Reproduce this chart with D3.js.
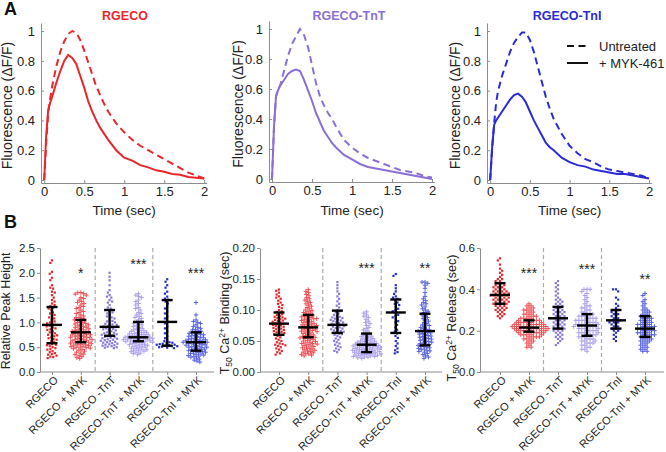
<!DOCTYPE html>
<html><head><meta charset="utf-8">
<script src="https://cdn.jsdelivr.net/npm/d3@7"></script>
<style>
body{margin:0;background:#fff}
svg{display:block}
</style></head><body>
<svg id="c" width="666" height="452" font-family="'Liberation Sans', Arial, sans-serif"></svg>
<script>
// ---------- Panel A data ----------
const TIME = [0,0.025,0.05,0.075,0.1,0.15,0.2,0.25,0.3,0.35,0.4,0.45,0.5,0.55,0.6,0.65,0.7,0.75,0.8,0.9,1.0,1.1,1.2,1.3,1.4,1.5,1.6,1.7,1.8,1.9,2.0];
const RGECO_UNTREATED = [0,0.25,0.45,0.55,0.63,0.76,0.86,0.93,0.98,1.0,0.99,0.94,0.87,0.79,0.71,0.63,0.57,0.51,0.46,0.38,0.32,0.27,0.23,0.2,0.17,0.14,0.11,0.08,0.05,0.03,0.01];
const RGECO_MYK461   = [0,0.3,0.47,0.52,0.56,0.65,0.73,0.8,0.84,0.82,0.78,0.7,0.62,0.53,0.46,0.4,0.35,0.31,0.27,0.2,0.15,0.13,0.1,0.085,0.065,0.055,0.04,0.035,0.02,0.015,0.01];
const TNT_UNTREATED  = [0,0.35,0.55,0.6,0.62,0.72,0.82,0.9,0.95,1.0,0.96,0.88,0.76,0.64,0.55,0.49,0.44,0.4,0.35,0.26,0.21,0.17,0.14,0.12,0.1,0.08,0.06,0.05,0.04,0.02,0.01];
const TNT_MYK461     = [0,0.35,0.55,0.59,0.62,0.66,0.7,0.72,0.73,0.72,0.66,0.59,0.52,0.44,0.38,0.32,0.28,0.24,0.21,0.16,0.13,0.1,0.08,0.07,0.06,0.05,0.04,0.03,0.02,0.01,0.0];
const TNI_UNTREATED  = [0,0.22,0.38,0.52,0.6,0.7,0.78,0.86,0.92,0.96,0.99,0.99,0.94,0.86,0.76,0.66,0.56,0.48,0.41,0.31,0.23,0.18,0.14,0.12,0.09,0.07,0.06,0.05,0.04,0.03,0.01];
const TNI_MYK461     = [0,0.22,0.37,0.4,0.42,0.46,0.5,0.54,0.57,0.58,0.56,0.52,0.46,0.4,0.35,0.3,0.25,0.22,0.2,0.15,0.12,0.1,0.09,0.07,0.06,0.05,0.04,0.04,0.03,0.02,0.01];
const A_TITLES = ["RGECO","RGECO-TnT","RGECO-TnI"];
const A_XTICKS = [0,0.5,1,1.5,2];
const A_YTICKS = [0,0.2,0.4,0.6,0.8,1];
const LEGEND = ["Untreated","+ MYK-461"];

// ---------- Panel B data ----------
const CATEGORIES = ["RGECO","RGECO + MYK","RGECO -TnT","RGECO-TnT + MYK","RGECO-TnI","RGECO-TnI + MYK"];

const PH_RGECO = [2.25,2.2,2.02,1.98,1.9,1.85,1.75,1.7,1.68,1.6,1.55,1.5,1.45,1.42,1.38,1.33,1.3,1.28,1.25,1.2,1.18,1.15,1.12,1.1,1.08,1.05,1.02,1.0,0.98,0.96,0.95,0.93,0.9,0.88,0.86,0.85,0.82,0.8,0.78,0.76,0.75,0.72,0.7,0.68,0.66,0.65,0.62,0.6,0.58,0.56,0.55,0.52,0.5,0.48,0.46,0.45,0.42,0.4,0.38,0.36,0.35,0.33,0.31,0.3,0.28,1.35,1.62,0.92,0.74,0.54];
const PH_RGECO_MYK = [1.6,1.6,1.58,1.57,1.55,1.5,1.48,1.45,1.42,1.4,1.38,1.35,1.32,1.3,1.28,1.25,1.22,1.2,1.18,1.15,1.13,1.1,1.1,1.08,1.05,1.05,1.03,1.0,1.0,0.98,0.97,0.95,0.95,0.93,0.92,0.9,0.9,0.88,0.87,0.85,0.85,0.84,0.82,0.82,0.8,0.8,0.79,0.78,0.77,0.76,0.75,0.75,0.74,0.73,0.72,0.71,0.7,0.7,0.69,0.68,0.67,0.66,0.65,0.65,0.64,0.63,0.62,0.61,0.6,0.6,0.59,0.58,0.57,0.56,0.55,0.55,0.54,0.53,0.52,0.51,0.5,0.5,0.49,0.48,0.47,0.45,0.44,0.42,0.4,0.38,0.36,0.35,0.33,0.31,0.29,0.27];
const PH_TNT = [2.0,1.92,1.85,1.75,1.65,1.6,1.55,1.52,1.5,1.45,1.42,1.4,1.35,1.3,1.28,1.25,1.22,1.2,1.18,1.15,1.12,1.1,1.08,1.05,1.03,1.0,0.98,0.96,0.95,0.93,0.92,0.9,0.88,0.87,0.85,0.84,0.82,0.8,0.79,0.78,0.76,0.75,0.74,0.72,0.71,0.7,0.69,0.68,0.66,0.65,0.64,0.63,0.62,0.61,0.6,0.59,0.58,0.57,0.56,0.55,0.54,0.53,0.52,0.51,0.5,0.49,0.48,1.02,0.97,0.86,0.77,0.67];
const PH_TNT_MYK = [1.58,1.55,1.52,1.5,1.45,1.42,1.38,1.35,1.3,1.28,1.25,1.2,1.18,1.15,1.12,1.1,1.08,1.05,1.02,1.0,0.98,0.96,0.95,0.93,0.92,0.9,0.88,0.87,0.85,0.84,0.83,0.82,0.8,0.8,0.79,0.78,0.77,0.76,0.75,0.75,0.74,0.73,0.72,0.72,0.71,0.7,0.7,0.69,0.69,0.68,0.68,0.67,0.66,0.66,0.65,0.65,0.64,0.63,0.63,0.62,0.62,0.61,0.6,0.6,0.59,0.58,0.57,0.56,0.55,0.55,0.54,0.53,0.52,0.51,0.5,0.49,0.48,0.47,0.46,0.45,0.44,0.43,0.42,0.41,0.4,0.38,0.37,0.35];
const PH_TNI = [1.87,1.82,1.75,1.7,1.62,1.58,1.52,1.48,1.45,1.42,1.38,1.32,1.28,1.22,1.18,1.12,1.08,1.02,0.98,0.92,0.88,0.82,0.78,0.72,0.68,0.64,0.62,0.6,0.58,0.57,0.56,0.55,0.55,0.54,0.53,0.52,0.52,0.51,0.5,0.49,0.48,1.46,0.59];
const PH_TNI_MYK = [1.4,1.15,1.05,1.02,1.0,0.98,0.95,0.92,0.9,0.88,0.86,0.85,0.83,0.82,0.8,0.79,0.78,0.77,0.76,0.75,0.74,0.73,0.72,0.71,0.7,0.69,0.68,0.67,0.66,0.65,0.65,0.64,0.63,0.62,0.62,0.61,0.6,0.6,0.59,0.58,0.57,0.56,0.55,0.55,0.54,0.53,0.52,0.51,0.5,0.5,0.49,0.48,0.47,0.46,0.45,0.44,0.43,0.42,0.41,0.4,0.39,0.38,0.37,0.36,0.35,0.34,0.33,0.32,0.31,0.3,0.28,0.26,0.24,0.22,0.2];
const PH_MEAN = [0.95,0.80,0.91,0.70,1.01,0.60];
const PH_LO   = [0.58,0.60,0.73,0.62,0.53,0.43];
const PH_HI   = [1.31,1.05,1.25,1.01,1.45,0.80];
const PH_SIG  = ["","*","","***","","***"];
const PH_SIG_Y = [0,2.04,0,2.22,0,2.04];
const PH_TICKS = [0,0.5,1,1.5,2,2.5];

const BD_RGECO = [0.133,0.131,0.128,0.125,0.122,0.12,0.118,0.115,0.112,0.11,0.108,0.105,0.103,0.1,0.098,0.097,0.095,0.093,0.092,0.09,0.089,0.088,0.087,0.086,0.085,0.084,0.083,0.082,0.081,0.08,0.079,0.078,0.077,0.076,0.075,0.074,0.073,0.072,0.071,0.07,0.069,0.068,0.067,0.066,0.065,0.064,0.063,0.062,0.061,0.06,0.058,0.056,0.054,0.052,0.05,0.048,0.046,0.045,0.044,0.043,0.042,0.04,0.038,0.036,0.034,0.032,0.03,0.028];
const BD_RGECO_MYK = [0.133,0.13,0.128,0.125,0.123,0.12,0.118,0.116,0.114,0.112,0.11,0.108,0.106,0.104,0.102,0.1,0.099,0.098,0.096,0.095,0.094,0.092,0.091,0.09,0.089,0.088,0.087,0.086,0.085,0.084,0.083,0.082,0.081,0.08,0.079,0.078,0.077,0.076,0.075,0.074,0.073,0.072,0.071,0.07,0.07,0.069,0.068,0.067,0.066,0.065,0.064,0.063,0.062,0.061,0.06,0.059,0.058,0.057,0.056,0.055,0.054,0.053,0.052,0.051,0.05,0.049,0.048,0.047,0.046,0.045,0.044,0.043,0.042,0.041,0.04,0.039,0.038,0.037,0.036,0.035,0.034,0.033,0.032,0.031,0.03,0.029,0.028,0.027,0.026,0.086,0.076,0.066,0.056,0.046];
const BD_TNT = [0.145,0.14,0.135,0.13,0.126,0.122,0.118,0.114,0.11,0.107,0.104,0.1,0.098,0.096,0.094,0.092,0.09,0.089,0.088,0.087,0.086,0.085,0.084,0.083,0.082,0.081,0.08,0.079,0.078,0.077,0.076,0.075,0.074,0.073,0.072,0.071,0.07,0.069,0.068,0.067,0.066,0.065,0.064,0.063,0.062,0.061,0.06,0.058,0.056,0.054,0.052,0.05,0.048,0.046,0.044,0.042,0.04,0.038,0.036,0.034,0.032];
const BD_TNT_MYK = [0.097,0.095,0.092,0.09,0.088,0.085,0.082,0.08,0.078,0.075,0.072,0.07,0.068,0.066,0.064,0.062,0.06,0.059,0.058,0.057,0.056,0.055,0.054,0.053,0.052,0.051,0.05,0.05,0.049,0.048,0.048,0.047,0.046,0.046,0.045,0.045,0.044,0.044,0.043,0.043,0.042,0.042,0.041,0.041,0.04,0.04,0.039,0.039,0.038,0.038,0.037,0.037,0.036,0.036,0.035,0.035,0.034,0.034,0.033,0.033,0.032,0.032,0.031,0.031,0.03,0.03,0.029,0.029,0.028,0.028,0.027,0.027,0.026,0.026,0.025,0.025,0.024,0.024,0.023,0.022];
const BD_TNI = [0.158,0.155,0.14,0.135,0.13,0.126,0.122,0.12,0.118,0.115,0.112,0.11,0.108,0.105,0.102,0.1,0.098,0.095,0.092,0.09,0.088,0.085,0.082,0.08,0.076,0.072,0.068,0.065,0.062,0.058,0.055,0.05,0.046,0.042,0.038,0.035,0.032,0.03];
const BD_TNI_MYK = [0.145,0.145,0.143,0.14,0.135,0.128,0.122,0.118,0.115,0.112,0.11,0.108,0.105,0.102,0.1,0.098,0.096,0.094,0.092,0.09,0.088,0.086,0.084,0.082,0.08,0.078,0.076,0.075,0.074,0.072,0.07,0.069,0.068,0.067,0.066,0.065,0.064,0.063,0.062,0.061,0.06,0.059,0.058,0.057,0.056,0.055,0.054,0.053,0.052,0.051,0.05,0.049,0.048,0.047,0.046,0.045,0.044,0.043,0.042,0.041,0.04,0.039,0.038,0.037,0.036,0.035,0.034,0.033,0.032,0.03,0.028,0.026,0.024,0.022];
const BD_MEAN = [0.078,0.072,0.076,0.044,0.096,0.066];
const BD_LO   = [0.060,0.056,0.063,0.032,0.063,0.043];
const BD_HI   = [0.096,0.092,0.099,0.062,0.117,0.094];
const BD_SIG  = ["","","","***","","**"];
const BD_SIG_Y = [0,0,0,0.171,0,0.171];
const BD_TICKS = [0,0.05,0.1,0.15,0.2];

const RL_RGECO = [0.55,0.54,0.52,0.5,0.49,0.48,0.47,0.46,0.45,0.45,0.44,0.44,0.43,0.43,0.42,0.42,0.42,0.41,0.41,0.41,0.4,0.4,0.4,0.39,0.39,0.39,0.39,0.38,0.38,0.38,0.38,0.37,0.37,0.37,0.37,0.37,0.36,0.36,0.36,0.36,0.35,0.35,0.35,0.35,0.34,0.34,0.34,0.34,0.33,0.33,0.33,0.33,0.32,0.32,0.32,0.31,0.31,0.31,0.3,0.3,0.3,0.29,0.29,0.28,0.28,0.27,0.27,0.26];
const RL_RGECO_MYK = [0.33,0.32,0.32,0.31,0.31,0.3,0.3,0.3,0.29,0.29,0.28,0.28,0.28,0.27,0.27,0.27,0.26,0.26,0.26,0.26,0.25,0.25,0.25,0.25,0.25,0.24,0.24,0.24,0.24,0.24,0.24,0.23,0.23,0.23,0.23,0.23,0.23,0.23,0.22,0.22,0.22,0.22,0.22,0.22,0.22,0.22,0.21,0.21,0.21,0.21,0.21,0.21,0.21,0.21,0.2,0.2,0.2,0.2,0.2,0.2,0.2,0.19,0.19,0.19,0.19,0.19,0.19,0.18,0.18,0.18,0.18,0.18,0.17,0.17,0.17,0.17,0.16,0.16,0.16,0.15,0.15,0.14,0.14,0.13,0.12,0.12];
const RL_TNT = [0.44,0.43,0.42,0.41,0.4,0.39,0.38,0.37,0.36,0.35,0.35,0.34,0.34,0.33,0.33,0.32,0.32,0.31,0.31,0.3,0.3,0.3,0.29,0.29,0.29,0.28,0.28,0.28,0.27,0.27,0.27,0.26,0.26,0.26,0.26,0.25,0.25,0.25,0.24,0.24,0.24,0.23,0.23,0.23,0.22,0.22,0.22,0.21,0.21,0.21,0.2,0.2,0.2,0.19,0.19,0.18,0.18,0.17,0.17,0.16,0.16,0.15,0.14,0.13];
const RL_TNT_MYK = [0.4,0.4,0.4,0.39,0.38,0.37,0.36,0.35,0.34,0.33,0.32,0.32,0.31,0.31,0.3,0.3,0.29,0.29,0.28,0.28,0.28,0.27,0.27,0.27,0.26,0.26,0.26,0.26,0.25,0.25,0.25,0.25,0.24,0.24,0.24,0.24,0.23,0.23,0.23,0.23,0.23,0.22,0.22,0.22,0.22,0.22,0.21,0.21,0.21,0.21,0.2,0.2,0.2,0.2,0.19,0.19,0.19,0.19,0.18,0.18,0.18,0.18,0.17,0.17,0.17,0.16,0.16,0.16,0.15,0.15,0.15,0.14,0.14,0.14,0.13,0.13,0.12,0.12,0.11,0.11,0.1];
const RL_TNI = [0.4,0.4,0.39,0.36,0.35,0.33,0.32,0.31,0.3,0.3,0.29,0.29,0.28,0.28,0.27,0.27,0.26,0.26,0.25,0.25,0.25,0.24,0.24,0.24,0.23,0.23,0.22,0.22,0.21,0.21,0.2,0.2,0.19,0.18,0.17,0.16,0.15];
const RL_TNI_MYK = [0.38,0.37,0.35,0.34,0.33,0.32,0.31,0.3,0.3,0.29,0.29,0.28,0.28,0.27,0.27,0.27,0.26,0.26,0.26,0.25,0.25,0.25,0.24,0.24,0.24,0.23,0.23,0.23,0.23,0.22,0.22,0.22,0.22,0.21,0.21,0.21,0.21,0.2,0.2,0.2,0.2,0.19,0.19,0.19,0.19,0.18,0.18,0.18,0.18,0.17,0.17,0.17,0.16,0.16,0.16,0.15,0.15,0.15,0.14,0.14,0.13,0.13,0.12,0.12,0.11,0.11,0.1,0.1];
const RL_MEAN = [0.373,0.215,0.26,0.225,0.25,0.21];
const RL_LO   = [0.33,0.195,0.21,0.175,0.21,0.17];
const RL_HI   = [0.43,0.25,0.315,0.28,0.30,0.27];
const RL_SIG  = ["","***","","***","","**"];
const RL_SIG_Y = [0,0.49,0,0.51,0,0.46];
const RL_TICKS = [0,0.2,0.4,0.6];

// ---------- drawing ----------
const svg = d3.select("#c");
const INK = "#222", AXIS = "#8c8c8c";
const COL = {red:"#e8262c", tnt:"#8a6fd6", tni:"#2a2ad6"};

svg.append("text").attr("x",4).attr("y",15).attr("font-size",18).attr("font-weight","bold").attr("fill","#111").text("A");
svg.append("text").attr("x",4).attr("y",228).attr("font-size",18).attr("font-weight","bold").attr("fill","#111").text("B");

const curvePanels = [
  {title:A_TITLES[0], color:COL.red, dashed:RGECO_UNTREATED, solid:RGECO_MYK461, xr:[41,206.6], xd:[-0.04,2.03], yr:[183,23], yd:[-0.02,1.054], ylabX:12, titleX:125},
  {title:A_TITLES[1], color:COL.tnt, dashed:TNT_UNTREATED, solid:TNT_MYK461, xr:[269,434.4], xd:[-0.0375,2.03], yr:[182,21], yd:[-0.02,1.053], ylabX:243, titleX:349},
  {title:A_TITLES[2], color:COL.tni, dashed:TNI_UNTREATED, solid:TNI_MYK461, xr:[487,651.4], xd:[-0.04,2.03], yr:[183,23], yd:[-0.02,1.054], ylabX:460, titleX:567}
];

function styleAxis(a, fs){
  a.attr("font-family",null).attr("font-size",null);
  a.selectAll("path,line").attr("stroke",AXIS);
  a.selectAll("text").attr("font-size",fs).attr("fill",INK);
}

curvePanels.forEach(p=>{
  const x = d3.scaleLinear(p.xd,p.xr), y = d3.scaleLinear(p.yd,p.yr);
  const g = svg.append("g");
  const ya = g.append("g").attr("transform",`translate(${p.xr[0]},0)`)
    .call(d3.axisLeft(y).tickValues(A_YTICKS).tickSizeInner(-3).tickSizeOuter(0).tickPadding(6).tickFormat(d=>String(d)));
  const xa = g.append("g").attr("transform",`translate(0,${p.yr[0]})`)
    .call(d3.axisBottom(x).tickValues(A_XTICKS).tickSizeInner(-3).tickSizeOuter(0).tickPadding(4).tickFormat(d=>String(d)));
  styleAxis(ya,13); styleAxis(xa,13);
  const line = d3.line().x((d,i)=>x(TIME[i])).y(d=>y(d));
  g.append("path").datum(p.dashed).attr("d",line).attr("fill","none").attr("stroke",p.color).attr("stroke-width",2).attr("stroke-dasharray","7,4.5");
  g.append("path").datum(p.solid).attr("d",line).attr("fill","none").attr("stroke",p.color).attr("stroke-width",2);
  g.append("text").attr("x",p.titleX).attr("y",20).attr("text-anchor","middle").attr("font-size",12.5).attr("font-weight","bold").attr("fill",p.color).text(p.title);
  g.append("text").attr("x",(x(0)+x(2))/2).attr("y",215).attr("text-anchor","middle").attr("font-size",13.5).attr("fill",INK).text("Time (sec)");
  g.append("text").attr("transform",`translate(${p.ylabX},${(y(0)+y(1))/2}) rotate(-90)`).attr("text-anchor","middle").attr("font-size",14).attr("fill",INK).text("Fluorescence (\u0394F/F)");
});

// legend
const lg = svg.append("g");
lg.append("line").attr("x1",567).attr("x2",588).attr("y1",46).attr("y2",46).attr("stroke","#111").attr("stroke-width",2).attr("stroke-dasharray","7,4.5");
lg.append("line").attr("x1",567).attr("x2",588).attr("y1",63).attr("y2",63).attr("stroke","#111").attr("stroke-width",2);
lg.append("text").attr("x",599).attr("y",51).attr("font-size",13).attr("fill",INK).text(LEGEND[0]);
lg.append("text").attr("x",599).attr("y",68).attr("font-size",13).attr("fill",INK).text(LEGEND[1]);

// Panel B
const GROUP_COL = ["#e4262b","#ee4f54","#8b78db","#ad9fec","#2230c8","#5560e0"];
const GROUP_PLUS = [false,true,false,true,false,true];

const dotPanels = [
  {label:[["Relative Peak Height",0]], yd:[0,2.5], ticks:PH_TICKS, fmt:d3.format(".1f"), axisX:40, xr:[52,196], xEnd:214, labX:10, labY:311,
   values:[PH_RGECO,PH_RGECO_MYK,PH_TNT,PH_TNT_MYK,PH_TNI,PH_TNI_MYK], mean:PH_MEAN, lo:PH_LO, hi:PH_HI, sig:PH_SIG, sigY:PH_SIG_Y},
  {label:[["T",0],["50",1],[" Ca",0],["2+",2],[" Binding (sec)",0]], yd:[0,0.2], ticks:BD_TICKS, fmt:d3.format(".2f"), axisX:260, xr:[279,425], xEnd:442, labX:229, labY:313,
   values:[BD_RGECO,BD_RGECO_MYK,BD_TNT,BD_TNT_MYK,BD_TNI,BD_TNI_MYK], mean:BD_MEAN, lo:BD_LO, hi:BD_HI, sig:BD_SIG, sigY:BD_SIG_Y},
  {label:[["T",0],["50",1],[" Ca",0],["2+",2],[" Release (sec)",0]], yd:[0,0.6], ticks:RL_TICKS, fmt:d3.format(".1f"), axisX:480, xr:[500,645], xEnd:664, labX:456, labY:318,
   values:[RL_RGECO,RL_RGECO_MYK,RL_TNT,RL_TNT_MYK,RL_TNI,RL_TNI_MYK], mean:RL_MEAN, lo:RL_LO, hi:RL_HI, sig:RL_SIG, sigY:RL_SIG_Y}
];

function swarm(ys, D){
  const idx = ys.map((_,i)=>i).sort((a,b)=>ys[a]-ys[b]);
  const placed=[], xs=new Array(ys.length);
  idx.forEach((i,k)=>{
    const yv=ys[i];
    const near=placed.filter(p=>Math.abs(p.y-yv)<D);
    const c=[0];
    near.forEach(p=>{const w=Math.sqrt(D*D-(p.y-yv)**2); c.push(p.x-w,p.x+w);});
    c.sort((a,b)=>Math.abs(a)-Math.abs(b) || (k%2? a-b : b-a));
    let best=0;
    for(const cx of c){ if(near.every(p=>(p.x-cx)**2+(p.y-yv)**2>=D*D-1e-6)){best=cx;break;} }
    xs[i]=best; placed.push({x:best,y:yv});
  });
  return xs;
}

dotPanels.forEach(p=>{
  const y = d3.scaleLinear(p.yd,[372,248]);
  const x = d3.scalePoint(CATEGORIES,p.xr);
  const g = svg.append("g");
  [1,3].forEach(i=>{
    const sx=(x(CATEGORIES[i])+x(CATEGORIES[i+1]))/2;
    g.append("line").attr("x1",sx).attr("x2",sx).attr("y1",248).attr("y2",372).attr("stroke","#aaa").attr("stroke-width",1.2).attr("stroke-dasharray","4,3");
  });
  const ya = g.append("g").attr("transform",`translate(${p.axisX},0)`)
    .call(d3.axisLeft(y).tickValues(p.ticks).tickSizeInner(3).tickSizeOuter(0).tickPadding(2).tickFormat(p.fmt));
  styleAxis(ya,11.5);
  g.append("line").attr("x1",p.axisX).attr("x2",p.xEnd).attr("y1",372).attr("y2",372).attr("stroke",AXIS);
  const xa = g.append("g").attr("transform","translate(0,372)").call(d3.axisBottom(x).tickSizeInner(3).tickSizeOuter(0).tickFormat(""));
  xa.select("path").remove();
  styleAxis(xa,11);
  CATEGORIES.forEach(c=>{
    g.append("text").attr("transform",`translate(${x(c)+4},378) rotate(-45)`).attr("text-anchor","end").attr("dy","0.35em")
      .attr("font-size",11).attr("fill",INK).text(c);
  });
  const t = g.append("text").attr("transform",`translate(${p.labX},${p.labY}) rotate(-90)`).attr("text-anchor","middle").attr("font-size",12.5).attr("fill",INK);
  let cur=0;
  p.label.forEach(([s,k])=>{
    const target = k===1?3:(k===2?-4:0);
    t.append("tspan").attr("dy",target-cur).attr("font-size",k?8.5:12.5).text(s);
    cur=target;
  });
  p.values.forEach((vals,gi)=>{
    const cx = x(CATEGORIES[gi]);
    const ys = vals.map(v=>y(v));
    const xs = swarm(ys,3.0);
    const col = GROUP_COL[gi];
    if(GROUP_PLUS[gi]){
      g.append("g").selectAll("path").data(vals).join("path")
        .attr("d",(v,i)=>`M${cx+xs[i]-2.2},${ys[i]}h4.4M${cx+xs[i]},${ys[i]-2.2}v4.4`)
        .attr("stroke",col).attr("stroke-width",1);
    } else {
      g.append("g").selectAll("rect").data(vals).join("rect")
        .attr("x",(v,i)=>cx+xs[i]-1.1).attr("y",(v,i)=>ys[i]-1.1).attr("width",2.2).attr("height",2.2).attr("fill",col);
    }
    const eb = g.append("g").attr("stroke","#000").attr("stroke-width",2.4);
    eb.append("line").attr("x1",cx).attr("x2",cx).attr("y1",y(p.lo[gi])).attr("y2",y(p.hi[gi]));
    eb.append("line").attr("x1",cx-10).attr("x2",cx+10).attr("y1",y(p.mean[gi])).attr("y2",y(p.mean[gi]));
    eb.append("line").attr("x1",cx-5.5).attr("x2",cx+5.5).attr("y1",y(p.lo[gi])).attr("y2",y(p.lo[gi]));
    eb.append("line").attr("x1",cx-5.5).attr("x2",cx+5.5).attr("y1",y(p.hi[gi])).attr("y2",y(p.hi[gi]));
    if(p.sig[gi]) g.append("text").attr("x",cx).attr("y",y(p.sigY[gi])+7.5).attr("text-anchor","middle").attr("font-size",14).attr("fill",INK).text(p.sig[gi]);
  });
});
</script>
</body></html>
